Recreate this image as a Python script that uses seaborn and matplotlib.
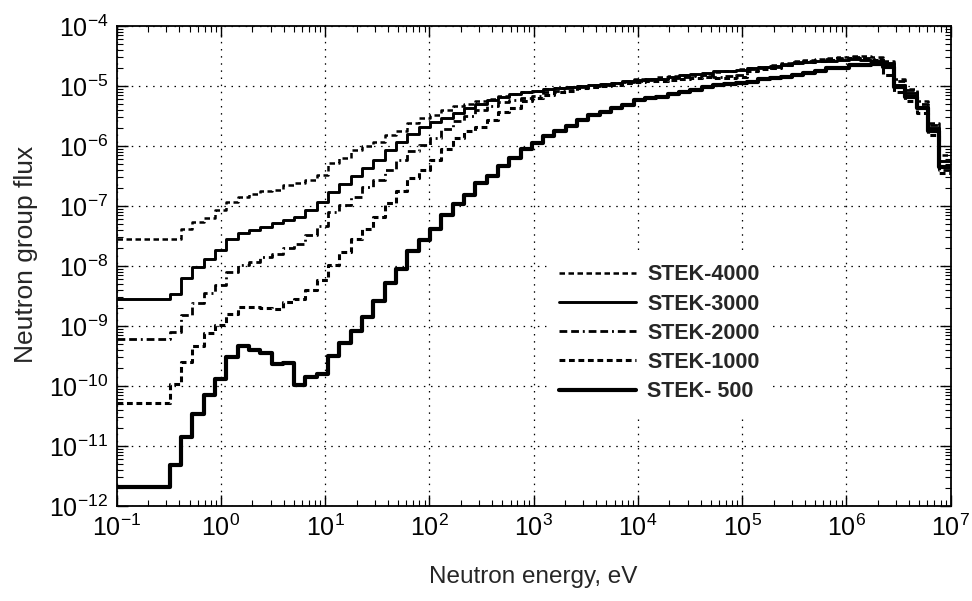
import matplotlib
matplotlib.use("Agg")
import matplotlib.pyplot as plt
import seaborn as sns
import numpy as np
import pandas as pd

# Energy group boundaries (eV), ascending
energy_edges = [0.1, 0.3224, 0.4140, 0.5316, 0.6825, 0.8764, 1.125, 1.445, 1.855, 2.382,
                3.059, 3.928, 5.044, 6.476, 8.315, 10.68, 13.71, 17.60, 22.60, 29.02,
                37.27, 47.85, 61.44, 78.89, 101.3, 130.1, 167.0, 214.4, 275.4, 353.6,
                454.0, 582.9, 748.5, 961.1, 1234, 1585, 2035, 2613, 3355, 4307,
                5531, 7102, 9119, 1.171e4, 1.503e4, 1.930e4, 2.479e4, 3.183e4, 4.087e4, 5.248e4,
                6.738e4, 8.652e4, 1.111e5, 1.426e5, 1.832e5, 2.352e5, 3.020e5, 3.877e5, 4.979e5, 6.393e5,
                8.208e5, 1.054e6, 1.353e6, 1.738e6, 2.231e6, 2.865e6, 3.679e6, 4.724e6, 6.065e6, 7.788e6,
                1.0e7]

x_ticks = [1e-1, 1e0, 1e1, 1e2, 1e3, 1e4, 1e5, 1e6, 1e7]
y_ticks = [1e-12, 1e-11, 1e-10, 1e-9, 1e-8, 1e-7, 1e-6, 1e-5, 1e-4]

stek_4000 = [2.8e-8, 2.8e-8, 4.2e-8, 5.5e-8, 6.3e-8, 8.6e-8, 1.18e-7, 1.4e-7, 1.6e-7, 1.74e-7,
             1.86e-7, 2.2e-7, 2.4e-7, 2.7e-7, 3.3e-7, 5.2e-7, 6.2e-7, 8.6e-7, 9.8e-7, 1.18e-6,
             1.5e-6, 1.8e-6, 2.4e-6, 2.9e-6, 3.3e-6, 4.0e-6, 4.6e-6, 5.0e-6, 5.7e-6, 6.0e-6,
             6.8e-6, 7.3e-6, 7.9e-6, 8.2e-6, 8.8e-6, 9.1e-6, 9.4e-6, 1.0e-5, 1.05e-5, 1.08e-5,
             1.1e-5, 1.22e-5, 1.28e-5, 1.32e-5, 1.4e-5, 1.45e-5, 1.5e-5, 1.5e-5, 1.6e-5, 1.7e-5,
             1.8e-5, 1.9e-5, 2.0e-5, 2.1e-5, 2.2e-5, 2.4e-5, 2.6e-5, 2.7e-5, 2.8e-5, 2.9e-5,
             3.0e-5, 3.2e-5, 3.1e-5, 3.0e-5, 2.6e-5, 1.3e-5, 9.0e-6, 5.5e-6, 2.4e-6, 7.0e-7]

stek_3000 = [2.8e-9, 3.4e-9, 6.2e-9, 9.5e-9, 1.3e-8, 1.85e-8, 2.8e-8, 3.5e-8, 3.9e-8, 4.4e-8,
             5.1e-8, 5.8e-8, 6.6e-8, 8.6e-8, 1.18e-7, 1.7e-7, 2.3e-7, 3.1e-7, 4.3e-7, 5.9e-7,
             8.6e-7, 1.18e-6, 1.6e-6, 2.1e-6, 2.5e-6, 2.9e-6, 3.6e-6, 4.2e-6, 5.0e-6, 5.9e-6,
             6.6e-6, 7.3e-6, 7.8e-6, 8.3e-6, 8.8e-6, 9.3e-6, 9.6e-6, 9.9e-6, 1.03e-5, 1.06e-5,
             1.1e-5, 1.2e-5, 1.25e-5, 1.28e-5, 1.32e-5, 1.38e-5, 1.5e-5, 1.6e-5, 1.65e-5, 1.75e-5,
             1.8e-5, 1.85e-5, 2.0e-5, 2.1e-5, 2.15e-5, 2.2e-5, 2.4e-5, 2.5e-5, 2.55e-5, 2.6e-5,
             2.7e-5, 2.75e-5, 2.7e-5, 2.6e-5, 2.4e-5, 1.05e-5, 7.6e-6, 4.5e-6, 2.0e-6, 5.5e-7]

stek_2000 = [6.0e-10, 8.0e-10, 1.5e-9, 2.4e-9, 3.6e-9, 4.8e-9, 8.0e-9, 1.04e-8, 1.18e-8, 1.42e-8,
             1.6e-8, 2.0e-8, 2.3e-8, 3.3e-8, 4.7e-8, 8.0e-8, 1.04e-7, 1.4e-7, 2.1e-7, 2.7e-7,
             4.0e-7, 5.9e-7, 8.1e-7, 1.04e-6, 1.34e-6, 1.9e-6, 2.6e-6, 3.2e-6, 4.0e-6, 4.6e-6,
             5.3e-6, 5.9e-6, 6.4e-6, 6.8e-6, 7.8e-6, 8.2e-6, 9.2e-6, 9.5e-6, 9.8e-6, 1.05e-5,
             1.1e-5, 1.15e-5, 1.22e-5, 1.26e-5, 1.3e-5, 1.35e-5, 1.4e-5, 1.45e-5, 1.5e-5, 1.4e-5,
             1.45e-5, 1.5e-5, 1.9e-5, 2.0e-5, 2.1e-5, 2.3e-5, 2.5e-5, 2.6e-5, 2.7e-5, 2.8e-5,
             2.9e-5, 3.0e-5, 2.9e-5, 2.8e-5, 2.2e-5, 1.2e-5, 8.5e-6, 5.0e-6, 2.2e-6, 4.0e-7]

stek_1000 = [5.2e-11, 1.1e-10, 2.5e-10, 4.6e-10, 7.6e-10, 1.04e-9, 1.6e-9, 2.1e-9, 2.05e-9, 2.0e-9,
             1.95e-9, 2.5e-9, 2.8e-9, 3.9e-9, 5.9e-9, 1.04e-8, 1.74e-8, 2.8e-8, 4.2e-8, 6.6e-8,
             1.1e-7, 1.74e-7, 2.9e-7, 4.0e-7, 5.9e-7, 9.0e-7, 1.34e-6, 1.8e-6, 2.1e-6, 2.7e-6,
             3.7e-6, 4.2e-6, 5.5e-6, 6.2e-6, 7.1e-6, 7.8e-6, 8.2e-6, 9.2e-6, 9.6e-6, 1.0e-5,
             1.05e-5, 1.12e-5, 1.16e-5, 1.2e-5, 1.22e-5, 1.25e-5, 1.3e-5, 1.35e-5, 1.38e-5, 1.35e-5,
             1.36e-5, 1.4e-5, 1.8e-5, 1.9e-5, 2.0e-5, 2.2e-5, 2.4e-5, 2.5e-5, 2.6e-5, 2.7e-5,
             2.8e-5, 2.9e-5, 2.8e-5, 2.7e-5, 1.5e-5, 8.0e-6, 5.5e-6, 3.5e-6, 1.5e-6, 3.5e-7]

stek_500 = [2.1e-12, 4.8e-12, 1.44e-11, 3.4e-11, 7.1e-11, 1.3e-10, 3.0e-10, 4.6e-10, 4.0e-10, 3.5e-10,
            2.3e-10, 2.4e-10, 1.04e-10, 1.42e-10, 1.58e-10, 3.1e-10, 5.2e-10, 8.3e-10, 1.4e-9, 2.6e-9,
            5.1e-9, 8.8e-9, 1.8e-8, 2.7e-8, 4.2e-8, 7.1e-8, 1.08e-7, 1.5e-7, 2.4e-7, 3.2e-7,
            4.6e-7, 6.4e-7, 9.0e-7, 1.1e-6, 1.45e-6, 1.8e-6, 2.15e-6, 2.65e-6, 3.3e-6, 3.7e-6,
            4.2e-6, 4.8e-6, 5.8e-6, 6.2e-6, 6.6e-6, 7.2e-6, 8.0e-6, 8.6e-6, 9.5e-6, 1.02e-5,
            1.08e-5, 1.1e-5, 1.15e-5, 1.3e-5, 1.35e-5, 1.4e-5, 1.5e-5, 1.65e-5, 1.75e-5, 1.95e-5,
            2.0e-5, 2.2e-5, 2.25e-5, 2.3e-5, 2.1e-5, 9.7e-6, 6.6e-6, 4.2e-6, 1.8e-6, 4.5e-7]

series_labels = ["STEK-4000", "STEK-3000", "STEK-2000", "STEK-1000", "STEK- 500"]
series_values = [stek_4000, stek_3000, stek_2000, stek_1000, stek_500]

styles = {
    "STEK-4000": dict(lw=1.8, ls=(0, (2.2, 1.4))),
    "STEK-3000": dict(lw=2.1, ls="-"),
    "STEK-2000": dict(lw=2.0, ls=(0, (2.8, 1.4, 2.8, 1.4, 0.7, 1.4))),
    "STEK-1000": dict(lw=2.2, ls=(0, (1.9, 1.2))),
    "STEK- 500": dict(lw=3.0, ls="-"),
}

sns.set_style("ticks")
plt.rcParams["font.family"] = ["Liberation Sans", "DejaVu Sans"]
plt.rcParams["mathtext.default"] = "regular"
plt.rcParams["axes.unicode_minus"] = False

fig = plt.figure(figsize=(9.72, 6.01), dpi=100)
ax = fig.add_axes([0.120, 0.158, 0.858, 0.799])

for lab, vals in zip(series_labels, series_values):
    df = pd.DataFrame({"energy": energy_edges, "flux": list(vals) + [vals[-1]]})
    st = styles[lab]
    sns.lineplot(data=df, x="energy", y="flux", ax=ax, estimator=None, sort=False,
                 drawstyle="steps-post", color="black", linewidth=st["lw"],
                 linestyle=st["ls"], label=lab)

ax.set_xscale("log")
ax.set_yscale("log")
ax.set_xlim(0.1, 1e7)
ax.set_ylim(1e-12, 1e-4)

ax.set_xticks(x_ticks)
ax.set_yticks(y_ticks)
ax.xaxis.set_major_formatter(matplotlib.ticker.LogFormatterSciNotation())
ax.yaxis.set_major_formatter(matplotlib.ticker.LogFormatterSciNotation())
ax.xaxis.set_minor_locator(matplotlib.ticker.LogLocator(base=10, subs=np.arange(2, 10), numticks=100))
ax.yaxis.set_minor_locator(matplotlib.ticker.LogLocator(base=10, subs=np.arange(2, 10), numticks=100))
ax.xaxis.set_minor_formatter(matplotlib.ticker.NullFormatter())
ax.yaxis.set_minor_formatter(matplotlib.ticker.NullFormatter())

ax.grid(True, which="major", color="black", linestyle=(0, (1.2, 4.5)), linewidth=0.9)
ax.set_axisbelow(False)
ax.tick_params(which="both", direction="in", top=True, right=True, colors="black")
ax.tick_params(which="major", length=8, width=1.0, labelsize=18, pad=6)
ax.tick_params(which="minor", length=4, width=0.8)
for sp in ax.spines.values():
    sp.set_linewidth(1.3)
    sp.set_color("black")

ax.set_xlabel("Neutron energy, eV", fontsize=17.5, labelpad=18)
ax.set_ylabel("Neutron group flux", fontsize=19)
ax.yaxis.set_label_coords(-0.094, 0.525)

leg = ax.legend(loc="upper left", bbox_to_anchor=(0.516, 0.528), frameon=True,
                facecolor="white", edgecolor="white", framealpha=1.0, fancybox=False,
                handlelength=3.6, handletextpad=0.5, labelspacing=0.38,
                borderaxespad=0, borderpad=0.55,
                prop={"size": 15.5, "weight": "bold"})
leg.set_zorder(5)

fig.savefig("out.png", dpi=100)
